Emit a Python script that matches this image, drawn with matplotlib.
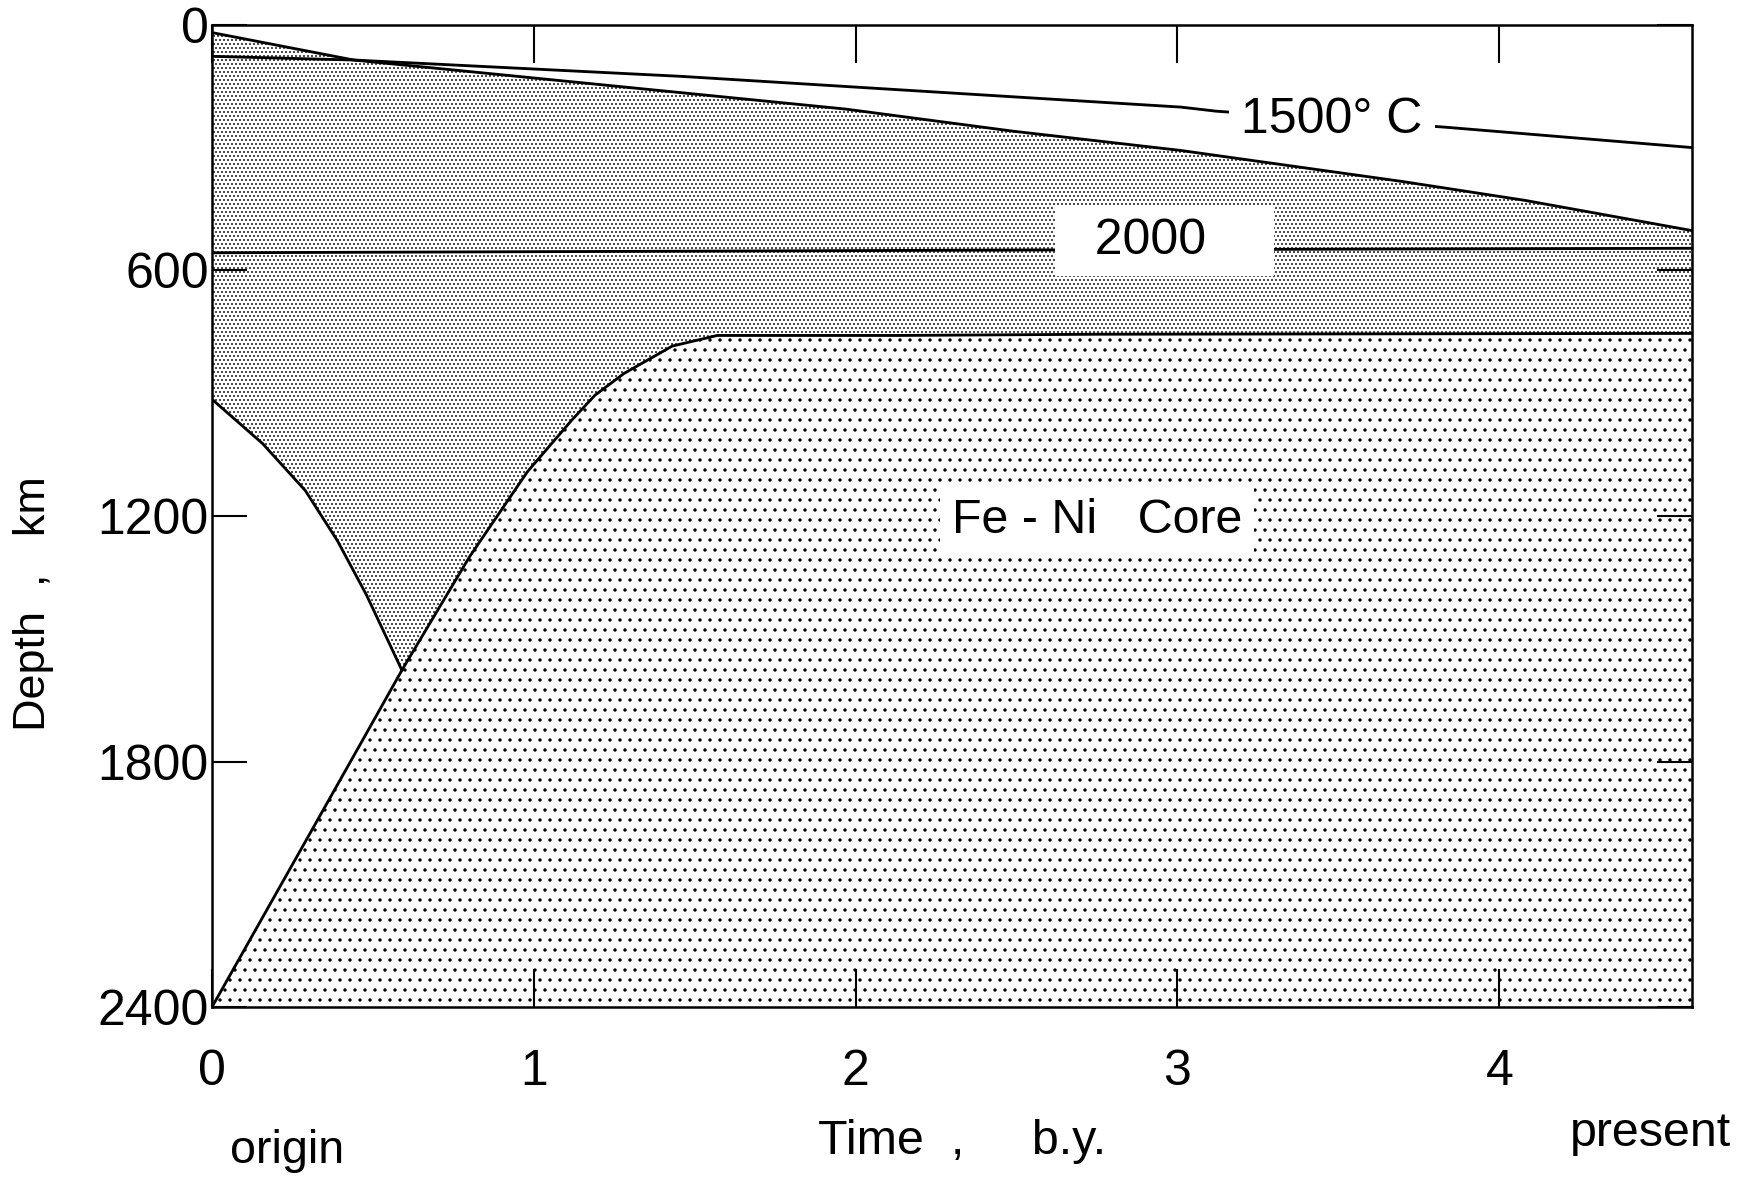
import matplotlib
matplotlib.use("Agg")
import matplotlib.pyplot as plt

plt.rcParams["font.family"] = ["Liberation Sans", "DejaVu Sans"]

# --- values (time in b.y., depth in km) ---
iso1500_t = [0.0, 0.44, 1.46, 2.76, 3.01, 3.12, 3.83, 4.6]
iso1500_d = [77, 86, 126, 189, 201, 211, 250, 300]

stip_top_t = [0.0, 0.44, 1.46, 1.97, 2.49, 3.01, 3.70, 4.08, 4.6]
stip_top_d = [19, 86, 166, 206, 260, 307, 383, 429, 503]

iso2000_t = [0.0, 2.62, 4.6]
iso2000_d = [557, 550, 546]

core_t = [0.0, 0.47, 0.59, 0.80, 0.98, 1.12, 1.19, 1.28, 1.43, 1.57, 2.13, 2.76, 4.6]
core_d = [2400, 1745, 1577, 1300, 1092, 964, 905, 852, 785, 759, 759, 756, 754]

left_t = [0.0, 0.157, 0.29, 0.39, 0.48, 0.583, 0.59]
left_d = [915, 1023, 1138, 1261, 1393, 1565, 1577]

x_ticks = [0, 1, 2, 3, 4]
y_ticks = [0, 600, 1200, 1800, 2400]
t_max = 4.6
d_max = 2400

# dpi 120 so that the hatch tile (1 inch) gives the coarser dot spacing of the original
fig = plt.figure(figsize=(14.6, 9.85), dpi=120)
ax = fig.add_axes([0.121, 0.148, 0.845, 0.831])

# light stipple: mantle between the upper boundary and the core / left curve
j = core_t.index(0.59)
poly_t = stip_top_t + core_t[::-1][:len(core_t) - j] + left_t[::-1]
poly_d = stip_top_d + core_d[::-1][:len(core_d) - j] + left_d[::-1]
with plt.rc_context({"hatch.linewidth": 0.6}):
    ax.fill(poly_t, poly_d, facecolor="white", edgecolor="black", lw=0,
            hatch=".....", zorder=1)
with plt.rc_context({"hatch.linewidth": 0.8}):
    ax.fill_between(core_t, core_d, d_max, facecolor="white", edgecolor="black",
                    lw=0, hatch="..", zorder=1)

lw = 1.7
for tt, dd in [(iso1500_t, iso1500_d), (stip_top_t, stip_top_d),
               (iso2000_t, iso2000_d), (core_t, core_d), (left_t, left_d)]:
    ax.plot(tt, dd, color="black", lw=lw, zorder=3)

fs = 30
ax.text(3.48, 232, "1500° C", fontsize=fs, ha="center", va="center", zorder=5,
        bbox=dict(boxstyle="square,pad=0.25", fc="white", ec="none"))
ax.text(2.96, 528, "  2000    ", fontsize=fs, ha="center", va="center", zorder=5,
        bbox=dict(boxstyle="square,pad=0.25", fc="white", ec="none"))
ax.text(2.75, 1210, "Fe - Ni   Core", fontsize=29, ha="center", va="center", zorder=5,
        bbox=dict(boxstyle="square,pad=0.25", fc="white", ec="none"))

ax.set_xlim(0, t_max)
ax.set_ylim(d_max, 0)
ax.set_xticks(x_ticks)
ax.set_xticklabels([str(v) for v in x_ticks])
ax.set_yticks(y_ticks)
ax.set_yticklabels([str(v) for v in y_ticks])
ax.tick_params(direction="in", width=1.25, top=True, right=True,
               labelsize=fs, colors="black")
ax.tick_params(axis="x", length=23, pad=25)
ax.tick_params(axis="y", length=21, pad=2)
for s in ax.spines.values():
    s.set_linewidth(1.5)

fig.text(0.019, 0.489, "Depth  ,   km", rotation=90, fontsize=27, ha="center", va="center")
fig.text(0.549, 0.034, "Time  ,     b.y.", fontsize=29, ha="center", va="center")
fig.text(0.164, 0.026, "origin", fontsize=28, ha="center", va="center")
fig.text(0.942, 0.041, "present", fontsize=29, ha="center", va="center")

fig.savefig("out.png", dpi=120)
